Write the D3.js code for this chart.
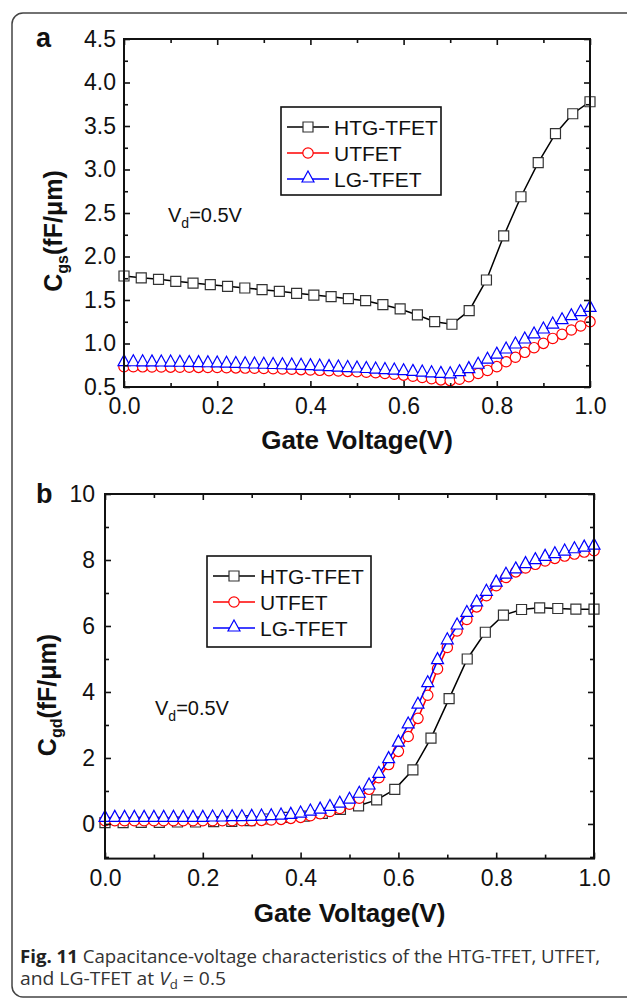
<!DOCTYPE html>
<html><head><meta charset="utf-8">
<script src="https://cdn.jsdelivr.net/npm/d3@7"></script>
<style>
html,body{margin:0;padding:0;background:#fff;}
svg{display:block;font-family:"Liberation Sans",Arial,sans-serif;}
</style></head>
<body>
<svg id="chart" width="627" height="1000"></svg>
<script>
// ---------------- DATA ----------------
const seriesNames = ["HTG-TFET", "UTFET", "LG-TFET"];
const seriesColors = ["#000000", "#ff0000", "#0000ff"];

// Panel a: Cgs (fF/um) vs gate voltage
const vgA_HTG = d3.range(28).map(i => i / 27);
const cgsHTG = [1.776,1.755,1.738,1.715,1.695,1.676,1.657,1.638,1.619,1.600,1.577,1.557,1.538,1.515,1.492,1.446,1.397,1.328,1.251,1.221,1.377,1.730,2.236,2.687,3.078,3.412,3.641,3.779];
const vgA = d3.range(51).map(i => i / 50);
const cgsUT = [0.734,0.733,0.732,0.731,0.730,0.729,0.728,0.727,0.726,0.725,0.724,0.722,0.720,0.718,0.716,0.713,0.710,0.707,0.704,0.700,0.696,0.692,0.688,0.684,0.680,0.676,0.670,0.664,0.656,0.647,0.637,0.625,0.610,0.595,0.582,0.574,0.590,0.618,0.655,0.690,0.734,0.790,0.842,0.899,0.952,1.002,1.058,1.105,1.155,1.201,1.251];
const cgsLG = [0.780,0.779,0.778,0.777,0.776,0.775,0.773,0.771,0.769,0.767,0.765,0.762,0.759,0.756,0.753,0.750,0.747,0.744,0.741,0.738,0.734,0.729,0.723,0.718,0.712,0.707,0.701,0.695,0.689,0.683,0.676,0.668,0.660,0.652,0.645,0.640,0.665,0.700,0.750,0.808,0.866,0.925,0.983,1.040,1.098,1.155,1.212,1.262,1.308,1.354,1.404];

// Panel b: Cgd (fF/um) vs gate voltage
const vgB_HTG = d3.range(28).map(i => i / 27);
const cgdHTG = [0.04,0.04,0.05,0.05,0.06,0.06,0.07,0.08,0.10,0.15,0.20,0.24,0.32,0.44,0.55,0.73,1.05,1.64,2.60,3.80,5.00,5.81,6.33,6.50,6.55,6.53,6.51,6.51];
const vgB = d3.range(51).map(i => i / 50);
const cgdUT = [0.10,0.10,0.10,0.10,0.10,0.10,0.10,0.10,0.10,0.10,0.10,0.10,0.10,0.10,0.10,0.10,0.11,0.12,0.14,0.17,0.20,0.25,0.31,0.38,0.47,0.60,0.78,1.05,1.40,1.80,2.20,2.65,3.20,3.90,4.70,5.35,5.85,6.20,6.58,6.92,7.22,7.47,7.64,7.76,7.87,7.97,8.05,8.12,8.18,8.24,8.28];
const cgdLG = [0.17,0.17,0.17,0.17,0.17,0.17,0.17,0.17,0.17,0.17,0.17,0.18,0.18,0.19,0.19,0.20,0.21,0.22,0.24,0.26,0.30,0.36,0.42,0.50,0.60,0.72,0.90,1.15,1.50,1.95,2.45,3.00,3.60,4.25,4.95,5.55,6.00,6.38,6.70,7.02,7.30,7.54,7.70,7.86,7.98,8.08,8.16,8.24,8.31,8.36,8.42];

// Ticks
const xMajor = [0, 0.2, 0.4, 0.6, 0.8, 1.0];
const xMinor = [0.1, 0.3, 0.5, 0.7, 0.9];
const yMajorA = [0.5, 1.0, 1.5, 2.0, 2.5, 3.0, 3.5, 4.0, 4.5];
const yMinorA = [0.75, 1.25, 1.75, 2.25, 2.75, 3.25, 3.75, 4.25];
const yMajorB = [0, 2, 4, 6, 8, 10];
const yMinorB = [-1, 1, 3, 5, 7, 9];

// ---------------- DRAW ----------------
const svg = d3.select("#chart");
const FONT = "'Liberation Sans', Arial, sans-serif";

// outer rounded frame
svg.append("rect").attr("x", 12).attr("y", 13).attr("width", 660).attr("height", 984)
  .attr("rx", 11).attr("fill", "none").attr("stroke", "#444").attr("stroke-width", 1.5);

function markerPath(kind) {
  if (kind === 0) return "M-5,-5H5V5H-5Z";
  if (kind === 1) return d3.symbol(d3.symbolCircle, Math.PI * 5.2 * 5.2)();
  return "M0,-8L6,3L-6,3Z";
}

function drawPanel(cfg) {
  const { x, y, yMaj, yMin, yFmt } = cfg;
  const g = svg.append("g");
  const [x0, x1] = x.range();
  const [yb, yt] = y.range();

  // series
  cfg.series.forEach((s, k) => {
    const pts = s.xs.map((v, i) => [x(v), y(s.ys[i])]);
    g.append("path").attr("d", d3.line()(pts)).attr("fill", "none")
      .attr("stroke", seriesColors[k]).attr("stroke-width", 1.5);
    g.append("g").selectAll("path").data(pts).join("path")
      .attr("transform", d => `translate(${d[0]},${d[1]})`)
      .attr("d", markerPath(k)).attr("fill", "#fff")
      .attr("stroke", k === 0 ? "#333" : seriesColors[k]).attr("stroke-width", 1.2);
  });

  const tickFont = g => g.selectAll("text").attr("font-size", 23).attr("fill", "#111")
    .attr("font-family", FONT);
  const clean = g => g.select(".domain").remove();

  // bottom
  g.append("g").attr("transform", `translate(0,${yb})`)
    .call(d3.axisBottom(x).tickValues(xMajor).tickSize(-6).tickSizeOuter(0).tickPadding(11).tickFormat(d3.format(".1f")))
    .call(clean).call(tickFont);
  g.append("g").attr("transform", `translate(0,${yb})`)
    .call(d3.axisBottom(x).tickValues(xMinor).tickSize(-4).tickFormat("")).call(clean);
  // top
  g.append("g").attr("transform", `translate(0,${yt})`)
    .call(d3.axisTop(x).tickValues(xMajor).tickSize(-6).tickFormat("")).call(clean);
  g.append("g").attr("transform", `translate(0,${yt})`)
    .call(d3.axisTop(x).tickValues(xMinor).tickSize(-4).tickFormat("")).call(clean);
  // left
  g.append("g").attr("transform", `translate(${x0},0)`)
    .call(d3.axisLeft(y).tickValues(yMaj).tickSize(-6).tickPadding(cfg.yPad).tickFormat(yFmt))
    .call(clean).call(tickFont);
  g.append("g").attr("transform", `translate(${x0},0)`)
    .call(d3.axisLeft(y).tickValues(yMin.filter(v => v > y.domain()[0])).tickSize(-4).tickFormat("")).call(clean);
  // right
  g.append("g").attr("transform", `translate(${x1},0)`)
    .call(d3.axisRight(y).tickValues(yMaj).tickSize(-6).tickFormat("")).call(clean);
  g.append("g").attr("transform", `translate(${x1},0)`)
    .call(d3.axisRight(y).tickValues(yMin.filter(v => v > y.domain()[0])).tickSize(-4).tickFormat("")).call(clean);
  g.selectAll(".tick line").attr("stroke", "#111").attr("stroke-width", 1.6);

  // frame
  g.append("rect").attr("x", x0).attr("y", yt).attr("width", x1 - x0).attr("height", yb - yt)
    .attr("fill", "none").attr("stroke", "#111").attr("stroke-width", 2);

  // panel letter
  g.append("text").attr("x", 36).attr("y", cfg.letterY).attr("font-size", 27).attr("font-weight", "bold")
    .attr("font-family", FONT).attr("fill", "#111").text(cfg.letter);

  // x title
  g.append("text").attr("x", (x0 + x1) / 2).attr("y", cfg.xTitleY).attr("text-anchor", "middle")
    .attr("font-family", FONT).attr("font-size", 26).attr("font-weight", "bold").attr("fill", "#111").text("Gate Voltage(V)");

  // y title
  const yt2 = g.append("text").attr("transform", `translate(${cfg.yTitleX},${cfg.yTitleY}) rotate(-90)`)
    .attr("text-anchor", "middle").attr("font-family", FONT).attr("font-size", 25).attr("font-weight", "bold").attr("fill", "#111");
  yt2.append("tspan").text("C");
  yt2.append("tspan").attr("font-size", 16).attr("dy", 6).text(cfg.sub);
  yt2.append("tspan").attr("dy", -6).text("(fF/μm)");

  // Vd label
  const vd = g.append("text").attr("x", cfg.vdX).attr("y", cfg.vdY).attr("font-size", 20)
    .attr("font-family", FONT).attr("fill", "#111");
  vd.append("tspan").text("V");
  vd.append("tspan").attr("font-size", 14).attr("dy", 6).text("d");
  vd.append("tspan").attr("dy", -6).text("=0.5V");

  // legend
  const L = cfg.legend;
  g.append("rect").attr("x", L.x).attr("y", L.y).attr("width", L.w).attr("height", L.h)
    .attr("fill", "#fff").attr("stroke", "#111").attr("stroke-width", 1.6);
  seriesNames.forEach((name, k) => {
    const cy = L.y + L.first + k * L.step;
    g.append("line").attr("x1", L.x + 6).attr("x2", L.x + 48).attr("y1", cy).attr("y2", cy)
      .attr("stroke", seriesColors[k]).attr("stroke-width", 1.5);
    g.append("path").attr("transform", `translate(${L.x + 27},${cy})`).attr("d", markerPath(k))
      .attr("fill", "#fff").attr("stroke", k === 0 ? "#333" : seriesColors[k]).attr("stroke-width", 1.2);
    g.append("text").attr("x", L.x + 53).attr("y", cy + 7.5).attr("font-size", 21)
      .attr("font-family", FONT).attr("fill", "#111").text(name);
  });
}

drawPanel({
  x: d3.scaleLinear([0, 1], [124, 590]),
  y: d3.scaleLinear([0.5, 4.5], [387, 39]),
  yMaj: yMajorA, yMin: yMinorA, yFmt: d3.format(".1f"), yPad: 8,
  series: [
    { xs: vgA_HTG, ys: cgsHTG },
    { xs: vgA, ys: cgsUT },
    { xs: vgA, ys: cgsLG }
  ],
  letter: "a", letterY: 47, xTitleY: 449, yTitleX: 62, yTitleY: 231, sub: "gs",
  vdX: 168, vdY: 222,
  legend: { x: 281, y: 107, w: 160, h: 88, first: 20, step: 26 }
});

drawPanel({
  x: d3.scaleLinear([0, 1], [105, 594]),
  y: d3.scaleLinear([-1.05, 10], [858.6, 494]),
  yMaj: yMajorB, yMin: yMinorB, yFmt: d3.format("d"), yPad: 10,
  series: [
    { xs: vgB_HTG, ys: cgdHTG },
    { xs: vgB, ys: cgdUT },
    { xs: vgB, ys: cgdLG }
  ],
  letter: "b", letterY: 503, xTitleY: 922, yTitleX: 56, yTitleY: 695, sub: "gd",
  vdX: 155, vdY: 715,
  legend: { x: 207, y: 556, w: 164, h: 91, first: 20, step: 26 }
});

// caption
const cap1 = svg.append("text").attr("x", 20).attr("y", 963).attr("font-size", 17.5)
  .attr("font-family", "'Open Sans', 'Noto Sans', sans-serif").attr("fill", "#333")
  .attr("textLength", 580).attr("lengthAdjust", "spacingAndGlyphs");
cap1.append("tspan").attr("font-weight", "bold").attr("fill", "#222").text("Fig. 11");
cap1.append("tspan").text(" Capacitance-voltage characteristics of the HTG-TFET, UTFET,");

const cap2 = svg.append("text").attr("x", 20).attr("y", 985).attr("font-size", 17.5)
  .attr("font-family", "'Open Sans', 'Noto Sans', sans-serif").attr("fill", "#333")
  .attr("textLength", 206).attr("lengthAdjust", "spacingAndGlyphs");
cap2.append("tspan").text("and LG-TFET at ");
cap2.append("tspan").attr("font-style", "italic").text("V");
cap2.append("tspan").attr("font-size", 12).attr("dy", 4).text("d");
cap2.append("tspan").attr("dy", -4).text(" = 0.5");
</script>
</body></html>
